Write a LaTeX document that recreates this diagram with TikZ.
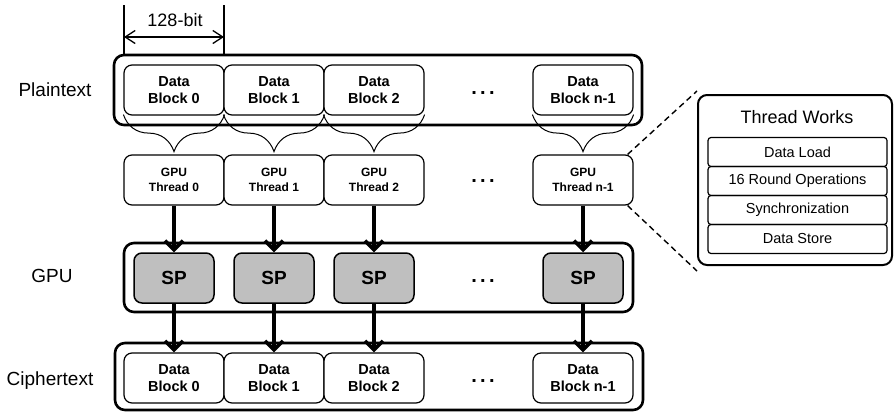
\documentclass[tikz,border=0pt]{standalone}
\usepackage{fontspec}
\setmainfont{Liberation Sans}
\usetikzlibrary{arrows.meta,decorations.pathreplacing}
\begin{document}
\begin{tikzpicture}[x=1pt,y=-1pt,
 outer/.style={draw, line width=2.6pt, rounded corners=10pt, inner sep=0pt},
 blk/.style={draw, line width=1.2pt, rounded corners=8pt, minimum width=100pt, minimum height=50pt, align=center, inner sep=0pt, fill=white,
   font=\fontsize{14.5}{17}\selectfont\bfseries},
 thr/.style={blk, font=\fontsize{12}{15.5}\selectfont\bfseries},
 spbox/.style={draw, line width=1.5pt, rounded corners=8pt, minimum width=80pt, minimum height=50pt, fill=black!25, inner sep=0pt,
   font=\fontsize{19}{20}\selectfont\bfseries},
 lbl/.style={anchor=base, font=\fontsize{19}{20}\selectfont},
 dots/.style={anchor=base, font=\fontsize{20}{20}\selectfont\bfseries},
 arr/.style={line width=3.6pt, -{Straight Barb[length=9pt,width=18pt]}},
 brc/.style={decorate, decoration={brace, mirror, amplitude=37pt}, line width=1pt},
 item/.style={draw, line width=1.2pt, rounded corners=3pt, minimum width=179pt, minimum height=29pt, inner sep=0pt,
   font=\fontsize{14.5}{16}\selectfont},
 dsh/.style={line width=1.4pt, dash pattern=on 6pt off 4pt}
]
\useasboundingbox (0,0) rectangle (894,413);

% 128-bit dimension
\coordinate (d0t) at (124,5); \coordinate (d0b) at (124,55);
\coordinate (d1t) at (224,5); \coordinate (d1b) at (224,55);
\coordinate (a0) at (124,37); \coordinate (a1) at (224,37);
\draw[line width=2.6pt] (d0t) -- (d0b);
\draw[line width=2.6pt] (d1t) -- (d1b);
\draw[line width=1.3pt, {Straight Barb[length=10pt,width=13pt]}-{Straight Barb[length=10pt,width=13pt]}] (a0) -- (a1);
\node[font=\fontsize{18}{20}\selectfont] (bits) at (175,20) {128-bit};

% row labels
\node[lbl] (lp) at (55,96) {Plaintext};
\node[lbl] (lg) at (52,282) {GPU};
\node[lbl] (lc) at (50,385) {Ciphertext};

% outer boxes
\node[outer, minimum width=528pt, minimum height=70pt] (pbox) at (378,90) {};
\node[outer, minimum width=509pt, minimum height=69pt] (gbox) at (378.5,277.5) {};
\node[outer, minimum width=528pt, minimum height=67pt] (cbox) at (379,376.5) {};

% plaintext blocks
\node[blk] (p0) at (174,90) {Data\\Block 0};
\node[blk] (p1) at (274,90) {Data\\Block 1};
\node[blk] (p2) at (374,90) {Data\\Block 2};
\node[blk] (pn) at (583,90) {Data\\Block n-1};

% threads
\node[thr] (t0) at (174,180) {GPU\\Thread 0};
\node[thr] (t1) at (274,180) {GPU\\Thread 1};
\node[thr] (t2) at (374,180) {GPU\\Thread 2};
\node[thr] (tn) at (583,180) {GPU\\Thread n-1};

% braces
\draw[brc] ([yshift=1pt]p0.south west) -- ([yshift=1pt]p0.south east);
\draw[brc] ([yshift=1pt]p1.south west) -- ([yshift=1pt]p1.south east);
\draw[brc] ([yshift=1pt]p2.south west) -- ([yshift=1pt]p2.south east);
\draw[brc] ([yshift=1pt]pn.south west) -- ([yshift=1pt]pn.south east);

% SPs
\node[spbox] (s0) at (174,278) {SP};
\node[spbox] (s1) at (274,278) {SP};
\node[spbox] (s2) at (374,278) {SP};
\node[spbox] (sn) at (583,278) {SP};

% ciphertext blocks
\node[blk] (c0) at (174,378) {Data\\Block 0};
\node[blk] (c1) at (274,378) {Data\\Block 1};
\node[blk] (c2) at (374,378) {Data\\Block 2};
\node[blk] (cn) at (583,378) {Data\\Block n-1};

% arrows
\foreach \i in {0,1,2,n}{
  \draw[arr] (t\i) -- (s\i);
  \draw[arr] (s\i) -- (c\i);
}

% dots
\node[dots] (dp) at (483,94) {.\,.\,.};
\node[dots] (dt) at (483,182) {.\,.\,.};
\node[dots] (dg) at (483,282) {.\,.\,.};
\node[dots] (dc) at (483,382) {.\,.\,.};

% thread works
\node[draw, line width=2pt, rounded corners=9pt, minimum width=194pt, minimum height=170pt, inner sep=0pt] (tw) at (795,180) {};
\node[font=\fontsize{18}{20}\selectfont] (twt) at (797,117) {Thread Works};
\node[item] (i1) at (797.5,152) {Data Load};
\node[item] (i2) at (797.5,181) {16 Round Operations};
\node[item] (i3) at (797.5,210) {Synchronization};
\node[item] (i4) at (797.5,239) {Data Store};

\draw[dsh] ([xshift=-6pt]tn.north east) -- ([yshift=3pt]tw.north west);
\draw[dsh] ([xshift=-6pt]tn.south east) -- ([yshift=-5pt]tw.south west);
\end{tikzpicture}
\end{document}
